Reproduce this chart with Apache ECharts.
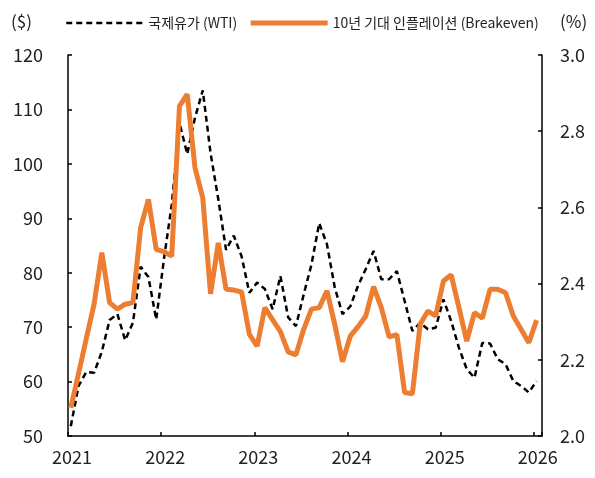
<!DOCTYPE html>
<html>
<head>
<meta charset="utf-8">
<script src="https://cdn.jsdelivr.net/npm/echarts@6/dist/echarts.min.js"></script>
<style>
  html, body { margin: 0; padding: 0; background: #fff; }
  #chart { width: 595px; height: 478px; }
</style>
</head>
<body>
<div id="chart"></div>
<script>
// monthly data, Jan 2021 .. Jan 2026
var startYear = 2021;

// WTI, $/bbl (left axis)
var wti = [
  51.8, 59.2, 61.8, 61.6, 65.5, 71.3, 72.4, 67.6, 70.8, 81.1, 79.2, 71.4,
  82.5, 92.5, 107.5, 101.8, 108.5, 113.5, 102.0, 93.5, 84.2, 86.8, 83.0, 76.3,
  78.2, 77.0, 73.3, 79.4, 71.8, 70.2, 76.0, 81.5, 89.1, 85.2, 77.3, 72.4,
  73.8, 77.6, 80.7, 84.0, 78.8, 78.8, 80.3, 74.8, 69.3, 70.8, 69.6, 69.9,
  75.1, 71.1, 66.2, 62.3, 60.7, 67.1, 67.0, 64.1, 63.2, 60.1, 59.2, 58.0,
  60.1
];

// 10y breakeven inflation, % (right axis)
var breakeven = [
  2.074, 2.164, 2.256, 2.346, 2.481, 2.350, 2.333, 2.346, 2.350, 2.547, 2.621, 2.490,
  2.484, 2.472, 2.866, 2.897, 2.704, 2.625, 2.373, 2.507, 2.385, 2.383, 2.378, 2.267,
  2.236, 2.337, 2.305, 2.274, 2.221, 2.213, 2.280, 2.333, 2.337, 2.381, 2.293, 2.195,
  2.262, 2.287, 2.315, 2.392, 2.337, 2.260, 2.266, 2.114, 2.111, 2.293, 2.328, 2.315,
  2.407, 2.423, 2.337, 2.249, 2.324, 2.309, 2.385, 2.385, 2.376, 2.315, 2.280, 2.245,
  2.304
];

var seriesNames = ['국제유가 (WTI)', '10년 기대 인플레이션 (Breakeven)'];

// x position of each month as a fractional year
function monthToX(i) {
  return startYear + i / 12 + 0.03;
}

var wtiData = wti.map(function (v, i) { return [monthToX(i), v]; });
var beData = breakeven.map(function (v, i) { return [monthToX(i), v]; });

var font = "'Noto Sans CJK KR', 'Noto Sans', sans-serif";
var axisLine = { show: true, lineStyle: { color: '#000', width: 1.5 } };
var axisTick = { show: true, inside: true, length: 4, lineStyle: { color: '#000', width: 1.5 } };

var chart = echarts.init(document.getElementById('chart'));

var option = {
  animation: false,
  textStyle: { fontFamily: font },
  grid: { left: 68, right: 53, top: 55, bottom: 42 },
  legend: {
    left: 60,
    top: 11,
    itemWidth: 77,
    itemHeight: 12,
    itemGap: 11,
    itemStyle: { opacity: 0 },
    lineStyle: { width: 'inherit' },
    textStyle: { fontFamily: font, fontSize: 14, color: '#222' },
    data: seriesNames
  },
  xAxis: {
    type: 'value',
    min: 2021,
    max: 2026.088,
    interval: 1,
    axisLine: axisLine,
    axisTick: axisTick,
    splitLine: { show: false },
    axisLabel: {
      color: '#222',
      fontFamily: font,
      fontSize: 18,
      margin: 12,
      padding: [0, 0, 0, 8],
      formatter: function (val) {
        return Math.abs(val - Math.round(val)) < 1e-6 ? String(Math.round(val)) : '';
      }
    }
  },
  yAxis: [
    {
      type: 'value',
      min: 50,
      max: 120,
      interval: 10,
      name: '($)',
      nameGap: 25,
      nameTextStyle: { fontFamily: font, fontSize: 17, color: '#222', align: 'right', padding: [0, 36, 0, 0] },
      axisLine: axisLine,
      axisTick: axisTick,
      splitLine: { show: false },
      axisLabel: { color: '#222', fontFamily: font, fontSize: 18, margin: 25 }
    },
    {
      type: 'value',
      min: 2.0,
      max: 3.0,
      interval: 0.2,
      position: 'right',
      name: '(%)',
      nameGap: 25,
      nameTextStyle: { fontFamily: font, fontSize: 17, color: '#222', align: 'left', padding: [0, 0, 0, 18] },
      axisLine: axisLine,
      axisTick: axisTick,
      splitLine: { show: false },
      axisLabel: {
        color: '#222', fontFamily: font, fontSize: 18, margin: 18,
        formatter: function (val) { return val.toFixed(1); }
      }
    }
  ],
  series: [
    {
      name: seriesNames[0],
      type: 'line',
      yAxisIndex: 0,
      data: wtiData,
      symbol: 'none',
      lineStyle: { color: '#000', width: 2.5, type: [6, 4] },
      itemStyle: { color: '#000' }
    },
    {
      name: seriesNames[1],
      type: 'line',
      yAxisIndex: 1,
      data: beData,
      symbol: 'none',
      lineStyle: { color: '#ED7D31', width: 5 },
      itemStyle: { color: '#ED7D31' }
    }
  ]
};

chart.setOption(option);
</script>
</body>
</html>
